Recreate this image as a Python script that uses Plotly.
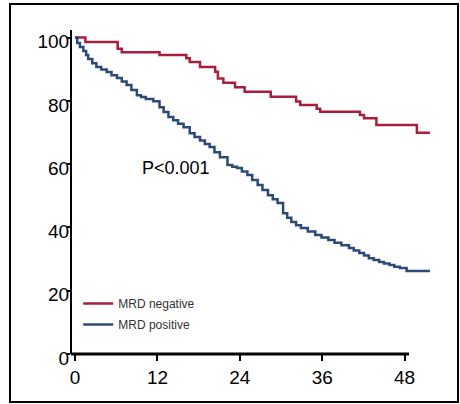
import plotly.graph_objects as go

# ---- data ----
series_names = ["MRD negative", "MRD positive"]
red_t = [0, 1.5, 6.2, 6.8, 12.3, 16.2, 16.7, 18.2, 20.4, 20.8, 21.6, 23.3, 24.7,
         28.5, 32.2, 32.8, 35.2, 35.7, 41.5, 42.1, 43.9, 49.8, 51.7]
red_s = [100, 98.6, 96.5, 95.4, 94.5, 93.5, 92.3, 90.7, 89.2, 87.1, 85.7, 84.3, 82.9,
         81.3, 79.8, 78.7, 77.5, 76.6, 75.5, 74.5, 72.4, 69.9, 69.9]
blue_t = [0, 0.3, 0.7, 1.2, 1.6, 1.9, 2.5, 3.1, 3.8, 4.6, 5.3, 6.1, 6.8, 7.5, 8.2,
          9.0, 9.6, 10.3, 11.4, 12.3, 12.9, 13.6, 14.3, 15.0, 15.8, 16.7, 17.4, 18.2,
          18.9, 19.6, 20.3, 21.1, 22.2, 22.9, 23.6, 24.3, 25.1, 25.8, 26.6, 27.3, 28.1,
          28.8, 29.5, 30.3, 30.9, 31.5, 32.2, 32.9, 33.9, 35.0, 35.9, 36.9, 37.8, 38.8,
          39.9, 40.6, 41.4, 42.1, 42.8, 43.5, 44.3, 45.0, 45.8, 46.5, 47.3, 48.3, 51.7]
blue_s = [100, 98.3, 97.0, 95.8, 94.5, 93.2, 91.9, 90.7, 89.9, 89.1, 88.1, 87.2, 86.1,
          85.0, 83.4, 81.8, 81.2, 80.6, 79.9, 78.0, 76.5, 74.9, 73.9, 72.8, 71.7, 69.8,
          68.6, 67.5, 66.4, 65.4, 63.8, 62.2, 59.7, 59.2, 58.8, 57.7, 56.6, 55.0, 53.4,
          51.8, 50.2, 48.9, 47.7, 44.5, 43.1, 41.7, 40.7, 39.8, 38.7, 37.6, 36.8, 36.0,
          35.2, 34.4, 33.5, 32.7, 31.9, 31.1, 30.3, 29.7, 29.1, 28.6, 28.1, 27.6, 27.2,
          26.2, 26.2]
x_ticks = [0, 12, 24, 36, 48]
y_ticks = [0, 20, 40, 60, 80, 100]
p_text = "P<0.001"
p_pos = (9.5, 58.8)

assert len(red_t) == len(red_s) and len(blue_t) == len(blue_s)

# ---- layout geometry ----
W, H = 460, 404
L, R, T, B = 71, 28, 30, 50
pw, ph = W - L - R, H - T - B


def pxx(px):
    return (px - L) / pw


def pxy(py):
    return (H - B - py) / ph


RED = "#a61f3c"
BLUE = "#2c4a78"
FONT = "Liberation Sans, Arial, sans-serif"

fig = go.Figure()
fig.add_trace(go.Scatter(x=red_t, y=red_s, mode="lines", name=series_names[0],
                         line=dict(color=RED, width=2.5, shape="hv"), legendgroup="a"))
fig.add_trace(go.Scatter(x=blue_t, y=blue_s, mode="lines", name=series_names[1],
                         line=dict(color=BLUE, width=2.5, shape="hv"), legendgroup="b"))

fig.add_annotation(x=p_pos[0], y=p_pos[1], text=p_text, showarrow=False,
                   xanchor="left", yanchor="middle",
                   font=dict(family=FONT, size=18, color="black"))

shapes = [
    # y axis line
    dict(type="line", xref="paper", yref="paper", x0=0, x1=0, y0=0, y1=1,
         line=dict(color="black", width=2)),
    # x axis line
    dict(type="line", xref="paper", yref="paper", x0=0, x1=pxx(409), y0=0, y1=0,
         line=dict(color="black", width=3)),
    # outer frame
    dict(type="rect", xref="paper", yref="paper", x0=pxx(10), x1=pxx(458),
         y0=pxy(402), y1=pxy(4), line=dict(color="black", width=2)),
]

fig.update_layout(
    width=W, height=H,
    margin=dict(l=L, r=R, t=T, b=B),
    paper_bgcolor="white", plot_bgcolor="white",
    shapes=shapes,
    showlegend=True,
    legend=dict(x=0.02, y=pxy(289), xanchor="left", yanchor="top",
                bgcolor="rgba(0,0,0,0)", tracegroupgap=2,
                font=dict(family=FONT, size=12, color="#333333")),
    xaxis=dict(range=[-0.6, 52], tickvals=x_ticks, ticks="outside", ticklen=6,
               tickwidth=2, tickcolor="black", showline=False, showgrid=False,
               zeroline=False, tickfont=dict(family=FONT, size=19, color="black")),
    yaxis=dict(range=[0, 102.4], tickvals=y_ticks, ticks="outside", ticklen=3,
               tickwidth=1.5, tickcolor="black", showline=False, showgrid=False,
               zeroline=False, ticklabelstandoff=-6, ticklabelshift=4,
               tickfont=dict(family=FONT, size=19, color="black")),
)

fig.write_html("out.html")
